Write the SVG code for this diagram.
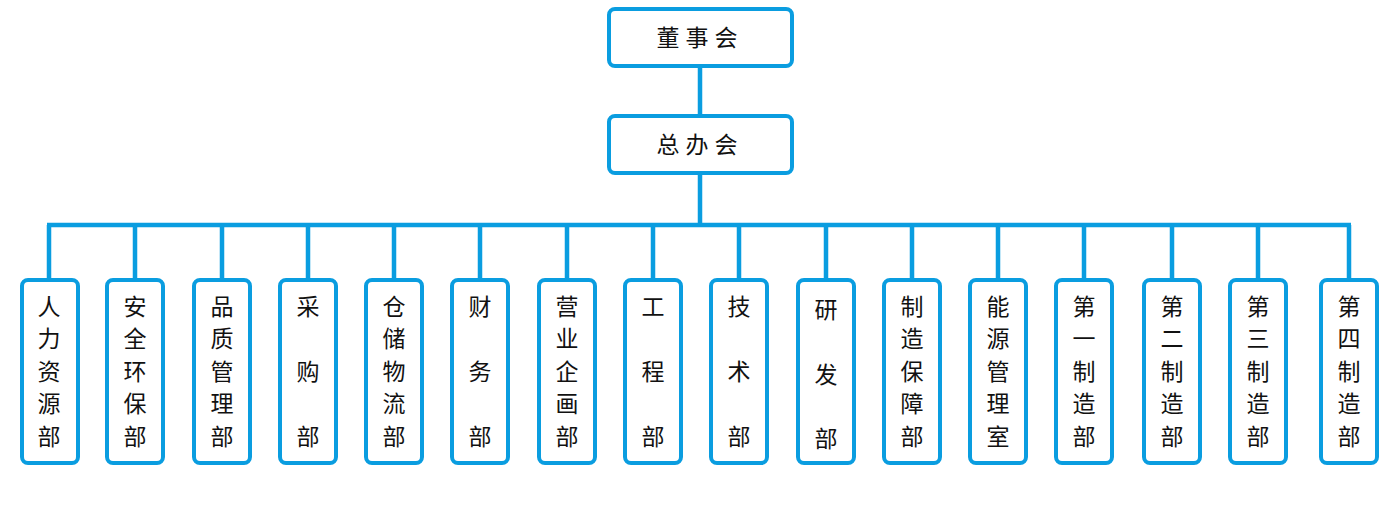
<svg xmlns="http://www.w3.org/2000/svg" width="1400" height="514" viewBox="0 0 1400 514">
<style>
.b{fill:#fff;stroke:#0a9de0;stroke-width:4}
.l{stroke:#0a9de0;stroke-width:4.5;fill:none}
text{font-family:"Noto Sans CJK SC",sans-serif;font-size:23px;fill:#111;text-anchor:middle}
</style>
<rect width="1400" height="514" fill="#fff"/>
<g id="connectors" class="l">
<path d="M700 66V116M700 173V225M47 225H1351"/>
<path d="M49 225V280M135 225V280M222 225V280M308 225V280M394 225V280M480 225V280M567 225V280M653 225V280M739 225V280M826 225V280M912 225V280M998 225V280M1084 225V280M1172 225V280M1258 225V280M1349 225V280"/>
</g>
<g id="n0"><rect class="b" x="609" y="9" width="183" height="57" rx="6"/><text x="700" y="46" letter-spacing="6">董事会</text></g>
<g id="n1"><rect class="b" x="609" y="116" width="183" height="57" rx="6"/><text x="700" y="153" letter-spacing="6">总办会</text></g>
<g id="d1"><rect class="b" x="22" y="280" width="56" height="183" rx="6"/><text x="49"><tspan x="49" y="315">人</tspan><tspan x="49" y="347">力</tspan><tspan x="49" y="380">资</tspan><tspan x="49" y="412">源</tspan><tspan x="49" y="445">部</tspan></text></g>
<g id="d2"><rect class="b" x="107" y="280" width="56" height="183" rx="6"/><text><tspan x="135" y="315">安</tspan><tspan x="135" y="347">全</tspan><tspan x="135" y="380">环</tspan><tspan x="135" y="412">保</tspan><tspan x="135" y="445">部</tspan></text></g>
<g id="d3"><rect class="b" x="194" y="280" width="56" height="183" rx="6"/><text><tspan x="222" y="315">品</tspan><tspan x="222" y="347">质</tspan><tspan x="222" y="380">管</tspan><tspan x="222" y="412">理</tspan><tspan x="222" y="445">部</tspan></text></g>
<g id="d4"><rect class="b" x="280" y="280" width="56" height="183" rx="6"/><text><tspan x="308" y="315">采</tspan><tspan x="308" y="380">购</tspan><tspan x="308" y="445">部</tspan></text></g>
<g id="d5"><rect class="b" x="366" y="280" width="56" height="183" rx="6"/><text><tspan x="394" y="315">仓</tspan><tspan x="394" y="347">储</tspan><tspan x="394" y="380">物</tspan><tspan x="394" y="412">流</tspan><tspan x="394" y="445">部</tspan></text></g>
<g id="d6"><rect class="b" x="452" y="280" width="56" height="183" rx="6"/><text><tspan x="480" y="315">财</tspan><tspan x="480" y="380">务</tspan><tspan x="480" y="445">部</tspan></text></g>
<g id="d7"><rect class="b" x="539" y="280" width="56" height="183" rx="6"/><text><tspan x="567" y="315">营</tspan><tspan x="567" y="347">业</tspan><tspan x="567" y="380">企</tspan><tspan x="567" y="412">画</tspan><tspan x="567" y="445">部</tspan></text></g>
<g id="d8"><rect class="b" x="625" y="280" width="56" height="183" rx="6"/><text><tspan x="653" y="315">工</tspan><tspan x="653" y="380">程</tspan><tspan x="653" y="445">部</tspan></text></g>
<g id="d9"><rect class="b" x="711" y="280" width="56" height="183" rx="6"/><text><tspan x="739" y="315">技</tspan><tspan x="739" y="380">术</tspan><tspan x="739" y="445">部</tspan></text></g>
<g id="d10"><rect class="b" x="798" y="280" width="56" height="183" rx="6"/><text><tspan x="826" y="318">研</tspan><tspan x="826" y="383">发</tspan><tspan x="826" y="447">部</tspan></text></g>
<g id="d11"><rect class="b" x="884" y="280" width="56" height="183" rx="6"/><text><tspan x="912" y="315">制</tspan><tspan x="912" y="347">造</tspan><tspan x="912" y="380">保</tspan><tspan x="912" y="412">障</tspan><tspan x="912" y="445">部</tspan></text></g>
<g id="d12"><rect class="b" x="970" y="280" width="56" height="183" rx="6"/><text><tspan x="998" y="315">能</tspan><tspan x="998" y="347">源</tspan><tspan x="998" y="380">管</tspan><tspan x="998" y="412">理</tspan><tspan x="998" y="445">室</tspan></text></g>
<g id="d13"><rect class="b" x="1056" y="280" width="56" height="183" rx="6"/><text><tspan x="1084" y="315">第</tspan><tspan x="1084" y="347">一</tspan><tspan x="1084" y="380">制</tspan><tspan x="1084" y="412">造</tspan><tspan x="1084" y="445">部</tspan></text></g>
<g id="d14"><rect class="b" x="1144" y="280" width="56" height="183" rx="6"/><text><tspan x="1172" y="315">第</tspan><tspan x="1172" y="347">二</tspan><tspan x="1172" y="380">制</tspan><tspan x="1172" y="412">造</tspan><tspan x="1172" y="445">部</tspan></text></g>
<g id="d15"><rect class="b" x="1230" y="280" width="56" height="183" rx="6"/><text><tspan x="1258" y="315">第</tspan><tspan x="1258" y="347">三</tspan><tspan x="1258" y="380">制</tspan><tspan x="1258" y="412">造</tspan><tspan x="1258" y="445">部</tspan></text></g>
<g id="d16"><rect class="b" x="1321" y="280" width="56" height="183" rx="6"/><text><tspan x="1349" y="315">第</tspan><tspan x="1349" y="347">四</tspan><tspan x="1349" y="380">制</tspan><tspan x="1349" y="412">造</tspan><tspan x="1349" y="445">部</tspan></text></g>
</svg>
